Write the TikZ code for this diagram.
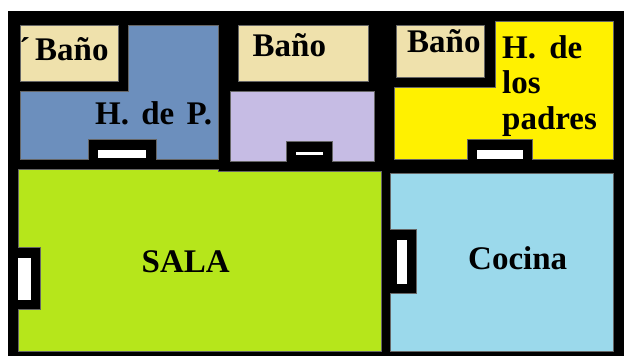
\documentclass[tikz,border=0pt]{standalone}
\usepackage{fontspec}
\setmainfont{Liberation Serif}
\definecolor{bano}{HTML}{EFE1AC}
\definecolor{azul}{HTML}{6C8FBD}
\definecolor{lila}{HTML}{C6BCE4}
\definecolor{amar}{HTML}{FFF100}
\definecolor{verde}{HTML}{B6E61B}
\definecolor{cielo}{HTML}{9BD9EB}
\tikzset{
  room/.style={line width=0.5pt,draw=black!60},
  glass/.style={fill=white,draw=none},
  walltext/.style={inner sep=0pt,anchor=base west,font=\fontsize{33}{36}\selectfont\bfseries,align=left}
}
\begin{document}
\begin{tikzpicture}[x=1pt,y=-1pt]
\useasboundingbox (0,0) rectangle (624,356);
\fill[white] (0,0) rectangle (624,356);
\fill[black!45] (7.5,10.5) rectangle (624,356);
\fill[black] (8,11) rectangle (624,356);
% blue room
\path[room,fill=azul] (128,25) -- (218.5,25) -- (218.5,159) -- (156,159) -- (156,139.5) -- (88,139.5) -- (88,159) -- (20,159) -- (20,91) -- (128,91) -- cycle;
\fill[glass] (98,149.5) rectangle (146,157.5);
% lilac room
\path[room,fill=lila] (230.5,91) -- (374.7,91) -- (374.7,161) -- (332.5,161) -- (332.5,141.5) -- (286.5,141.5) -- (286.5,161) -- (230.5,161) -- cycle;
\fill[glass] (296,151.5) rectangle (322.5,155);
% yellow room
\path[room,fill=amar] (495,21) -- (613,21) -- (613,159) -- (532.7,159) -- (532.7,139.5) -- (467,139.5) -- (467,159) -- (394.5,159) -- (394.5,87.3) -- (495,87.3) -- cycle;
\fill[glass] (476.5,149.5) rectangle (523,159);
% baths
\path[room,fill=bano] (20,25) rectangle (118.3,81);
\path[room,fill=bano] (238.3,25) rectangle (368.7,81);
\path[room,fill=bano] (396.5,25) rectangle (484.7,77);
% living room
\path[room,fill=verde] (18,169) -- (218.5,169) -- (218.5,171) -- (380.8,171) -- (380.8,351.7) -- (18,351.7) -- (18,309) -- (40,309) -- (40,247.7) -- (18,247.7) -- cycle;
\fill[glass] (18,257.7) rectangle (30.5,300);
% kitchen
\path[room,fill=cielo] (390.3,173) -- (613,173) -- (613,351.7) -- (390.3,351.7) -- (390.3,293.3) -- (416.5,293.3) -- (416.5,229.3) -- (390.3,229.3) -- cycle;
\fill[glass] (396.5,239.5) rectangle (407,284);
% labels
\node[walltext] (b1) at (19,60) {\char"00B4\kern5pt Baño};
\node[walltext] (b2) at (252.5,56) {Baño};
\node[walltext] (b3) at (407,52) {Baño};
\node[walltext] (hp) at (95,124) {H.\kern4pt{} de\kern4pt{} P.};
\node[walltext] (h1) at (502,58) {H.\kern5pt{} de};
\node[walltext] (h2) at (502,93) {los};
\node[walltext] (h3) at (502,129) {padres};
\node[walltext] (sala) at (141.5,272) {SALA};
\node[walltext] (coc) at (468,269.5) {Cocina};
\end{tikzpicture}
\end{document}
